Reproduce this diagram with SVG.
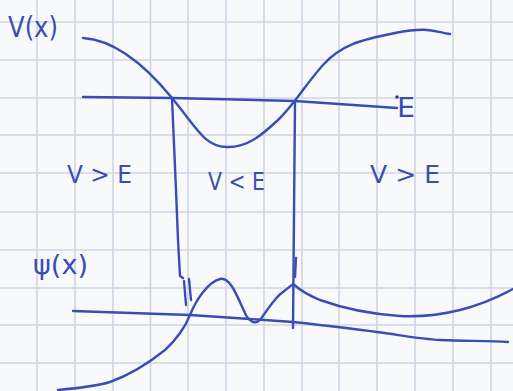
<svg xmlns="http://www.w3.org/2000/svg" width="513" height="391" viewBox="0 0 513 391">
<defs>
<style>
.grid{stroke:#cdd6e4;stroke-width:1.6;fill:none}
.ink{stroke:#3a4db5;stroke-width:2.4;fill:none;stroke-linecap:round;stroke-linejoin:round}
.lbl{fill:#3a4db5;font-family:"DejaVu Sans","Liberation Sans",sans-serif}
</style>
</defs>
<rect width="513" height="391" fill="#f8f9fb"/>
<g id="grid" class="grid">
<path d="M37,0V391M75,0V391M113,0V391M150.5,0V391M188,0V391M226,0V391M264,0V391M302,0V391M339,0V391M377,0V391M415,0V391M453,0V391M491,0V391"/>
<path d="M0,22H513M0,60H513M0,98H513M0,135H513M0,173H513M0,212H513M0,250H513M0,288H513M0,325H513M0,363H513"/>
</g>
<g id="potential" class="ink">
<path d="M83,38 C115,40 145,65 172,98 S205,146 226,147 S262,135 278,120 S305,85 323,65 S360,40 395,33 S435,32 450,34"/>
</g>
<g id="energy" class="ink">
<path d="M83,97 L172,98 L295,101 L397,108"/>
<circle cx="397" cy="97" r="1.8" fill="#2a3a90" stroke="none"/>
</g>
<g id="connectors" class="ink">
<path d="M172,98 L176,190 L178,240 L180,276 L183,278"/>
<path d="M184,281 L186,305 M189,279 L191,300"/>
<path d="M295,101 L293,328"/>
<path d="M296,258 L295,277"/>
</g>
<g id="psi-axis" class="ink">
<path d="M73,311 L190,315 L250,319 L293,322 C330,326 355,329 377,332 C400,335 420,339 440,340 C470,341 490,341 508,342"/>
</g>
<g id="psi" class="ink">
<path d="M58,390 C80,388 100,385 110,382 C130,375 150,362 165,350 C178,338 186,325 190,315 C196,300 208,282 220,279 C232,276 240,305 247,317 C252,323 256,324 260,320 C266,312 275,297 283,292 C288,288 292,285 293,284 C300,290 310,296 320,300 C345,309 370,314 400,316 C420,317 440,315 460,310 C480,305 500,296 513,289"/>
</g>
<g id="labels" class="lbl">
<text x="8" y="37" font-size="28" textLength="50" lengthAdjust="spacingAndGlyphs">V(x)</text>
<text x="397" y="117" font-size="27" textLength="18" lengthAdjust="spacingAndGlyphs">E</text>
<text x="67" y="183" font-size="25" textLength="65" lengthAdjust="spacingAndGlyphs">V &gt; E</text>
<text x="208" y="190" font-size="25" textLength="57" lengthAdjust="spacingAndGlyphs">V &lt; E</text>
<text x="370" y="183" font-size="25" textLength="70" lengthAdjust="spacingAndGlyphs">V &gt; E</text>
<text x="33" y="274" font-size="27" textLength="55" lengthAdjust="spacingAndGlyphs">ψ(x)</text>
</g>
</svg>
